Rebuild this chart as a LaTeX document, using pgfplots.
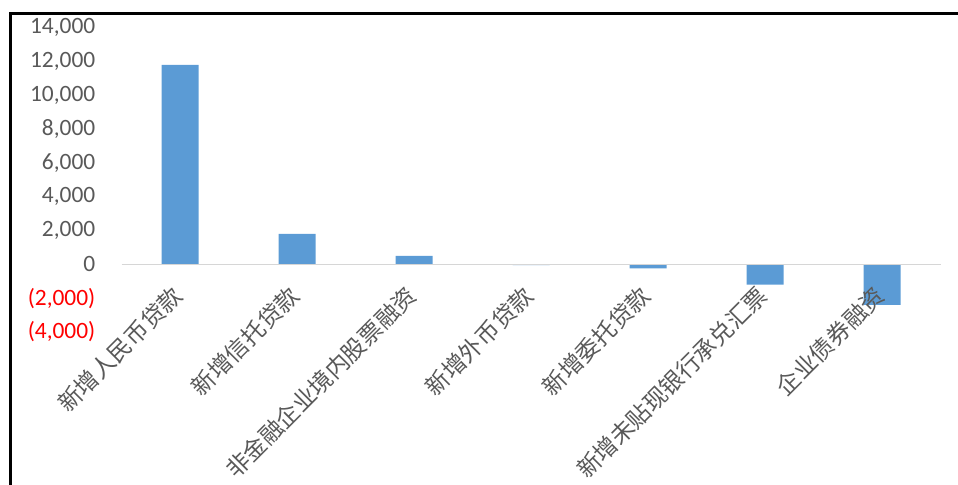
\documentclass[border=0pt]{standalone}
\usepackage{fontspec}
\setmainfont{Carlito}
\newfontfamily\cjk{Noto Sans CJK SC}
\usepackage{pgfplots}
\pgfplotsset{compat=1.18}
\definecolor{barblue}{HTML}{5B9BD5}
\definecolor{txtgray}{HTML}{595959}
\begin{document}
\begin{tikzpicture}
\useasboundingbox (0bp,0bp) rectangle (958bp,-485bp);
\begin{axis}[
  at={(121.5bp,-332bp)}, anchor=south west,
  scale only axis, width=819bp, height=304.3bp,
  xmin=-0.5, xmax=6.5, ymin=-4000, ymax=14000,
  axis on top,
  axis x line=middle, axis y line=left,
  x axis line style={-, draw=black!16, line width=1.6bp},
  y axis line style={draw=none},
  major tick length=0pt,
  scaled y ticks=false,
  xtick={0,...,6},
  xticklabels={新增人民币贷款,新增信托贷款,非金融企业境内股票融资,新增外币贷款,新增委托贷款,新增未贴现银行承兑汇票,企业债券融资},
  xticklabel style={xshift=-2bp, yshift=-27bp, font=\cjk\fontsize{23.5}{25}\selectfont, text=txtgray, rotate=45, anchor=east, inner sep=0pt},
  ytick={-4000,-2000,0,2000,4000,6000,8000,10000,12000,14000},
  yticklabels={{\textcolor{red}{(4,000)}},{\textcolor{red}{(2,000)}},0,{2,000},{4,000},{6,000},{8,000},{10,000},{12,000},{14,000}},
  yticklabel style={font=\fontsize{23.5}{25}\selectfont, text=txtgray, anchor=east, inner sep=0pt, xshift=-26bp},
  ybar, bar width=37bp, bar shift=0pt,
  clip=false,
]
\addplot[fill=barblue, draw=none] coordinates {(0,11800) (1,1800) (2,500) (3,-40) (4,-230) (5,-1200) (6,-2400)};
\end{axis}
\draw[line width=3bp, black] (10bp,-485bp) -- (10bp,-13bp) -- (958bp,-13bp);
\end{tikzpicture}
\end{document}
